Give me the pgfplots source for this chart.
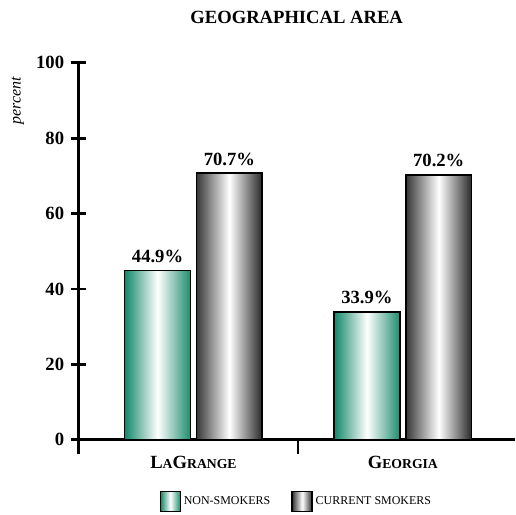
\documentclass[border=0pt]{standalone}
\usepackage{pgfplots}
\pgfplotsset{compat=1.18}
\usepackage{fontspec}
\setmainfont{Liberation Serif}
\definecolor{tealA}{RGB}{18,135,105}
\definecolor{tealB}{RGB}{30,140,110}
\definecolor{grayA}{RGB}{55,55,55}
\definecolor{grayB}{RGB}{40,40,40}
\newcommand{\smc}[1]{{\fontsize{10.3}{12}\selectfont #1}}
\pgfplotsset{
  nonsm/.style={ybar, bar width=49.5pt, bar shift=-27pt, draw=black, line width=1.2pt, left color=tealA, right color=tealB, middle color=white,
    every node near coord/.append style={xshift=-27pt}},
  cursm/.style={ybar, bar width=49.5pt, bar shift=27pt, draw=black, line width=1.2pt, left color=grayA, right color=grayB, middle color=white,
    every node near coord/.append style={xshift=27pt}},
}
\begin{document}
\begin{tikzpicture}
\begin{axis}[
  name=ax,
  scale only axis,
  width=327.75pt, height=283.5pt,
  xmin=-0.5476, xmax=1.5333,
  ymin=0, ymax=100,
  axis x line=bottom, axis y line=left,
  axis line style={-, line width=2.2pt},
  every tick/.style={line width=2pt, black},
  ytick={0,20,40,60,80,100},
  yticklabel style={font=\fontsize{14}{16}\selectfont\bfseries, xshift=-2pt},
  /pgf/number format/assume math mode=true,
  ytick align=center,
  major tick length=11pt,
  xtick={-0.5476,0.5},
  xticklabels={},
  xtick align=outside,
  extra x ticks={0,1},
  extra x tick labels={{L\smc{A}G\smc{RANGE}},{G\smc{EORGIA}}},
  extra x tick style={major tick length=0pt, tick label style={font=\fontsize{14}{16}\selectfont\bfseries, yshift=-9pt}},
  clip=false,
  nodes near coords={\pgfmathprintnumber[fixed,precision=1,fixed zerofill]{\pgfplotspointmeta}\%},
  nodes near coords style={font=\fontsize{14}{16}\selectfont\bfseries, yshift=2pt, text=black},
  legend style={at={(0.5,-0.164)}, anchor=center, draw=none, legend columns=2,
    font=\fontsize{9}{11}\selectfont, /tikz/every even column/.append style={column sep=14pt}},
  legend image code/.code={\draw[#1] (0pt,-7.5pt) rectangle (15pt,7.5pt);},
]
\addplot[nonsm] coordinates {(0,44.9)};
\addplot[cursm] coordinates {(0,70.7)};
\addplot[nonsm, forget plot] coordinates {(1,33.9)};
\addplot[cursm, forget plot] coordinates {(1,70.2)};
\legend{NON-SMOKERS, CURRENT SMOKERS}
\node[anchor=base, font=\fontsize{14}{16}\selectfont\bfseries] at ([yshift=29.25pt]rel axis cs:0.5,1) {GEOGRAPHICAL AREA};
\node[rotate=90, anchor=center, font=\fontsize{12}{14}\selectfont\itshape] at ([xshift=-45.75pt]rel axis cs:0,0.9) {percent};
\end{axis}
\useasboundingbox ([xshift=-59.25pt, yshift=-54.75pt]ax.south west) rectangle ([yshift=47.25pt]ax.north east);
\end{tikzpicture}
\end{document}
